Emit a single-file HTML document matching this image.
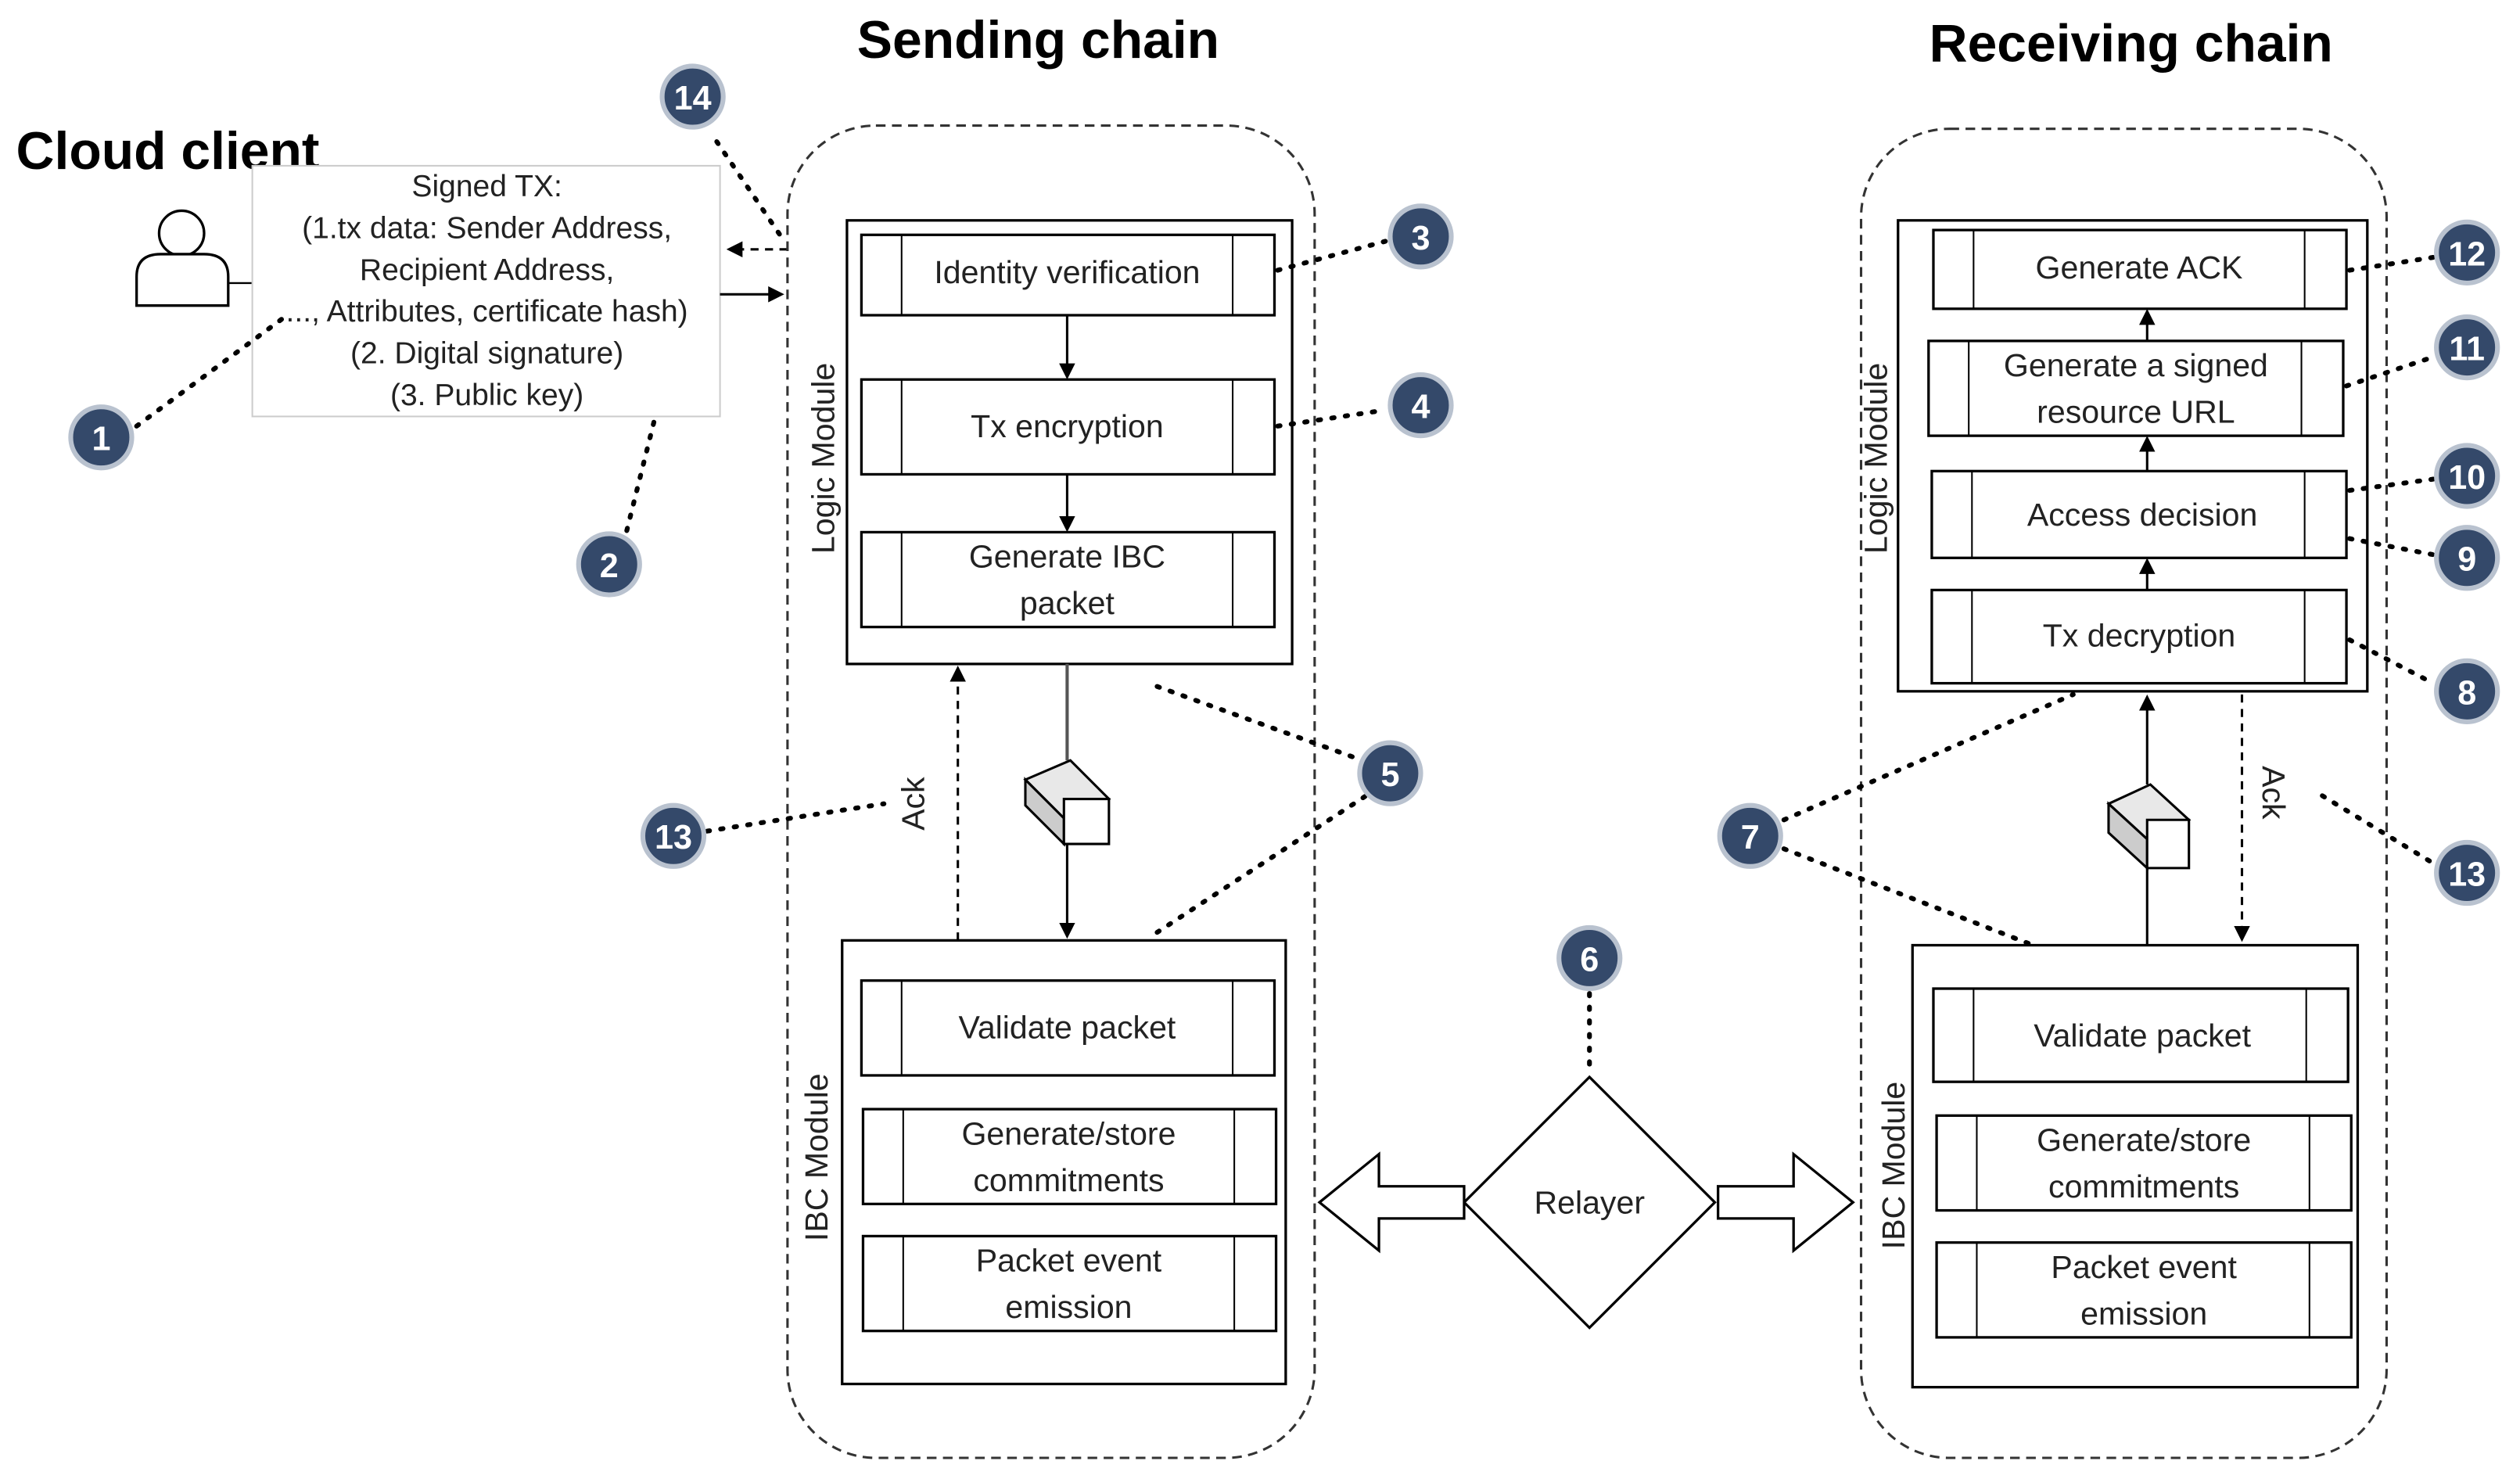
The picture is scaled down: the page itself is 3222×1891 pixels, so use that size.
<!DOCTYPE html>
<html><head><meta charset="utf-8"><style>html,body{margin:0;padding:0;background:#fff}svg{display:block}</style></head>
<body>
<svg width="3222" height="1891" viewBox="0 0 1568 920" xmlns="http://www.w3.org/2000/svg" font-family="Liberation Sans, sans-serif">
<defs>
<marker id="ah" markerWidth="10" markerHeight="10" refX="8" refY="5" orient="auto" markerUnits="userSpaceOnUse"><path d="M0,0 L10,5 L0,10 Z" fill="#000"/></marker>
</defs>
<style>
.t{font-size:20px;fill:#222;text-anchor:middle}
.p{fill:#fff;stroke:#000;stroke-width:1.6}
.d{stroke:#000;stroke-width:3;stroke-dasharray:1.5 7;stroke-linecap:round;fill:none}
.n{fill:#34496a;stroke:#b9c2cf;stroke-width:3}
.nt{font-size:21px;font-weight:bold;fill:#fff;text-anchor:middle}
</style>
<text x="646" y="36" font-size="33" font-weight="bold" text-anchor="middle">Sending chain</text>
<text x="1326" y="38" font-size="33" font-weight="bold" text-anchor="middle">Receiving chain</text>
<text x="10" y="105" font-size="33" font-weight="bold">Cloud client</text>
<!-- person -->
<circle cx="113" cy="145" r="14" fill="#fff" stroke="#000" stroke-width="1.6"/>
<path d="M85,190 L85,172 Q85,158 100,158 L127,158 Q142,158 142,172 L142,190 Z" fill="#fff" stroke="#000" stroke-width="1.6"/>
<line x1="142" y1="176" x2="157" y2="176" stroke="#000" stroke-width="1.2"/>
<!-- signed tx -->
<rect x="157" y="103" width="291" height="156" fill="#fff" stroke="#ccc" stroke-width="1"/>
<g font-size="19" fill="#222" text-anchor="middle">
<text x="303" y="122">Signed TX:</text>
<text x="303" y="148">(1.tx data: Sender Address,</text>
<text x="303" y="174">Recipient Address,</text>
<text x="303" y="200">..., Attributes, certificate hash)</text>
<text x="303" y="226">(2.  Digital signature)</text>
<text x="303" y="252">(3. Public key)</text>
</g>
<line x1="490" y1="155" x2="454" y2="155" stroke="#000" stroke-width="1.5" stroke-dasharray="5 4" marker-end="url(#ah)"/>
<line x1="448" y1="183" x2="486" y2="183" stroke="#000" stroke-width="1.5" marker-end="url(#ah)"/>
<!-- sending chain -->
<rect x="490" y="78" width="328" height="829" rx="55" fill="none" stroke="#333" stroke-width="1.5" stroke-dasharray="6 4"/>
<rect x="527" y="137" width="277" height="276" class="p"/>
<text transform="translate(519,285) rotate(-90)" class="t" font-size="19">Logic Module</text>
<g>
<rect x="536" y="146" width="257" height="50" class="p"/><line x1="561" y1="146" x2="561" y2="196" stroke="#000"/><line x1="767" y1="146" x2="767" y2="196" stroke="#000"/>
<text x="664" y="176" class="t">Identity verification</text>
<rect x="536" y="236" width="257" height="59" class="p"/><line x1="561" y1="236" x2="561" y2="295" stroke="#000"/><line x1="767" y1="236" x2="767" y2="295" stroke="#000"/>
<text x="664" y="272" class="t">Tx encryption</text>
<rect x="536" y="331" width="257" height="59" class="p"/><line x1="561" y1="331" x2="561" y2="390" stroke="#000"/><line x1="767" y1="331" x2="767" y2="390" stroke="#000"/>
<text x="664" y="353" class="t">Generate IBC</text><text x="664" y="382" class="t">packet</text>
</g>
<line x1="664" y1="196" x2="664" y2="234" stroke="#000" stroke-width="1.5" marker-end="url(#ah)"/>
<line x1="664" y1="295" x2="664" y2="329" stroke="#000" stroke-width="1.5" marker-end="url(#ah)"/>
<line x1="664" y1="413" x2="664" y2="473" stroke="#555" stroke-width="2"/>
<line x1="664" y1="525" x2="664" y2="582" stroke="#000" stroke-width="1.5" marker-end="url(#ah)"/>
<g stroke="#000" stroke-width="1.5">
<path d="M638,485 L666,473 L690,497 L662,509 Z" fill="#e8e8e8"/>
<path d="M638,485 L662,509 L662,525 L638,501 Z" fill="#ccc"/>
<path d="M662,497 L690,497 L690,525 L662,525 Z" fill="#fff"/>
</g>
<line x1="596" y1="585" x2="596" y2="416" stroke="#000" stroke-width="1.5" stroke-dasharray="5 4" marker-end="url(#ah)"/>
<text transform="translate(575,500) rotate(-90)" class="t" font-size="19">Ack</text>
<rect x="524" y="585" width="276" height="276" class="p"/>
<text transform="translate(515,720) rotate(-90)" class="t" font-size="19">IBC Module</text>
<g>
<rect x="536" y="610" width="257" height="59" class="p"/><line x1="561" y1="610" x2="561" y2="669" stroke="#000"/><line x1="767" y1="610" x2="767" y2="669" stroke="#000"/>
<text x="664" y="646" class="t">Validate packet</text>
<rect x="537" y="690" width="257" height="59" class="p"/><line x1="562" y1="690" x2="562" y2="749" stroke="#000"/><line x1="768" y1="690" x2="768" y2="749" stroke="#000"/>
<text x="665" y="712" class="t">Generate/store</text><text x="665" y="741" class="t">commitments</text>
<rect x="537" y="769" width="257" height="59" class="p"/><line x1="562" y1="769" x2="562" y2="828" stroke="#000"/><line x1="768" y1="769" x2="768" y2="828" stroke="#000"/>
<text x="665" y="791" class="t">Packet event</text><text x="665" y="820" class="t">emission</text>
</g>
<!-- relayer -->
<path d="M989,670 L1067,748 L989,826 L911,748 Z" class="p"/>
<text x="989" y="755" class="t">Relayer</text>
<path d="M911,738 L858,738 L858,718 L821,748 L858,778 L858,758 L911,758 Z" class="p"/>
<path d="M1069,738 L1116,738 L1116,718 L1153,748 L1116,778 L1116,758 L1069,758 Z" class="p"/>
<!-- receiving chain -->
<rect x="1158" y="80" width="327" height="827" rx="55" fill="none" stroke="#333" stroke-width="1.5" stroke-dasharray="6 4"/>
<rect x="1181" y="137" width="292" height="293" class="p"/>
<text transform="translate(1174,285) rotate(-90)" class="t" font-size="19">Logic Module</text>
<g>
<rect x="1203" y="143" width="257" height="49" class="p"/><line x1="1228" y1="143" x2="1228" y2="192" stroke="#000"/><line x1="1434" y1="143" x2="1434" y2="192" stroke="#000"/>
<text x="1331" y="173" class="t">Generate ACK</text>
<rect x="1200" y="212" width="258" height="59" class="p"/><line x1="1225" y1="212" x2="1225" y2="271" stroke="#000"/><line x1="1432" y1="212" x2="1432" y2="271" stroke="#000"/>
<text x="1329" y="234" class="t">Generate a signed</text><text x="1329" y="263" class="t">resource URL</text>
<rect x="1202" y="293" width="258" height="54" class="p"/><line x1="1227" y1="293" x2="1227" y2="347" stroke="#000"/><line x1="1434" y1="293" x2="1434" y2="347" stroke="#000"/>
<text x="1333" y="327" class="t">Access decision</text>
<rect x="1202" y="367" width="258" height="58" class="p"/><line x1="1227" y1="367" x2="1227" y2="425" stroke="#000"/><line x1="1434" y1="367" x2="1434" y2="425" stroke="#000"/>
<text x="1331" y="402" class="t">Tx decryption</text>
</g>
<line x1="1336" y1="212" x2="1336" y2="194" stroke="#000" stroke-width="1.5" marker-end="url(#ah)"/>
<line x1="1336" y1="293" x2="1336" y2="273" stroke="#000" stroke-width="1.5" marker-end="url(#ah)"/>
<line x1="1336" y1="367" x2="1336" y2="349" stroke="#000" stroke-width="1.5" marker-end="url(#ah)"/>
<line x1="1336" y1="588" x2="1336" y2="540" stroke="#000" stroke-width="1.5"/>
<line x1="1336" y1="488" x2="1336" y2="434" stroke="#000" stroke-width="1.5" marker-end="url(#ah)"/>
<g stroke="#000" stroke-width="1.5">
<path d="M1312,500 L1338,488 L1362,510 L1336,522 Z" fill="#e8e8e8"/>
<path d="M1312,500 L1336,522 L1336,540 L1312,518 Z" fill="#ccc"/>
<path d="M1336,510 L1362,510 L1362,540 L1336,540 Z" fill="#fff"/>
</g>
<line x1="1395" y1="432" x2="1395" y2="584" stroke="#000" stroke-width="1.5" stroke-dasharray="5 4" marker-end="url(#ah)"/>
<text transform="translate(1408,493) rotate(90)" class="t" font-size="19">Ack</text>
<rect x="1190" y="588" width="277" height="275" class="p"/>
<text transform="translate(1185,725) rotate(-90)" class="t" font-size="19">IBC Module</text>
<g>
<rect x="1203" y="615" width="258" height="58" class="p"/><line x1="1228" y1="615" x2="1228" y2="673" stroke="#000"/><line x1="1435" y1="615" x2="1435" y2="673" stroke="#000"/>
<text x="1333" y="651" class="t">Validate packet</text>
<rect x="1205" y="694" width="258" height="59" class="p"/><line x1="1230" y1="694" x2="1230" y2="753" stroke="#000"/><line x1="1437" y1="694" x2="1437" y2="753" stroke="#000"/>
<text x="1334" y="716" class="t">Generate/store</text><text x="1334" y="745" class="t">commitments</text>
<rect x="1205" y="773" width="258" height="59" class="p"/><line x1="1230" y1="773" x2="1230" y2="832" stroke="#000"/><line x1="1437" y1="773" x2="1437" y2="832" stroke="#000"/>
<text x="1334" y="795" class="t">Packet event</text><text x="1334" y="824" class="t">emission</text>
</g>
<!-- dotted leaders -->
<path class="d" d="M446,88 L488,150"/>
<path class="d" d="M85,265 L180,195"/>
<path class="d" d="M390,330 L408,258"/>
<path class="d" d="M795,168 L862,150"/>
<path class="d" d="M795,265 L862,255"/>
<path class="d" d="M720,427 L845,472"/>
<path class="d" d="M720,580 L850,495"/>
<path class="d" d="M440,517 L550,500"/>
<path class="d" d="M989,618 L989,665"/>
<path class="d" d="M1110,510 L1290,432"/>
<path class="d" d="M1110,528 L1265,588"/>
<path class="d" d="M1462,168 L1514,160"/>
<path class="d" d="M1460,240 L1514,222"/>
<path class="d" d="M1462,305 L1514,298"/>
<path class="d" d="M1462,335 L1514,345"/>
<path class="d" d="M1462,398 L1514,425"/>
<path class="d" d="M1445,495 L1514,537"/>
<!-- numbers -->
<g>
<circle cx="431" cy="60" r="19" class="n"/><text x="431" y="68" class="nt">14</text>
<circle cx="63" cy="272" r="19" class="n"/><text x="63" y="280" class="nt">1</text>
<circle cx="379" cy="351" r="19" class="n"/><text x="379" y="359" class="nt">2</text>
<circle cx="884" cy="147" r="19" class="n"/><text x="884" y="155" class="nt">3</text>
<circle cx="884" cy="252" r="19" class="n"/><text x="884" y="260" class="nt">4</text>
<circle cx="865" cy="481" r="19" class="n"/><text x="865" y="489" class="nt">5</text>
<circle cx="419" cy="520" r="19" class="n"/><text x="419" y="528" class="nt">13</text>
<circle cx="989" cy="596" r="19" class="n"/><text x="989" y="604" class="nt">6</text>
<circle cx="1089" cy="520" r="19" class="n"/><text x="1089" y="528" class="nt">7</text>
<circle cx="1535" cy="157" r="19" class="n"/><text x="1535" y="165" class="nt">12</text>
<circle cx="1535" cy="216" r="19" class="n"/><text x="1535" y="224" class="nt">11</text>
<circle cx="1535" cy="296" r="19" class="n"/><text x="1535" y="304" class="nt">10</text>
<circle cx="1535" cy="347" r="19" class="n"/><text x="1535" y="355" class="nt">9</text>
<circle cx="1535" cy="430" r="19" class="n"/><text x="1535" y="438" class="nt">8</text>
<circle cx="1535" cy="543" r="19" class="n"/><text x="1535" y="551" class="nt">13</text>
</g>
</svg>
</body></html>
